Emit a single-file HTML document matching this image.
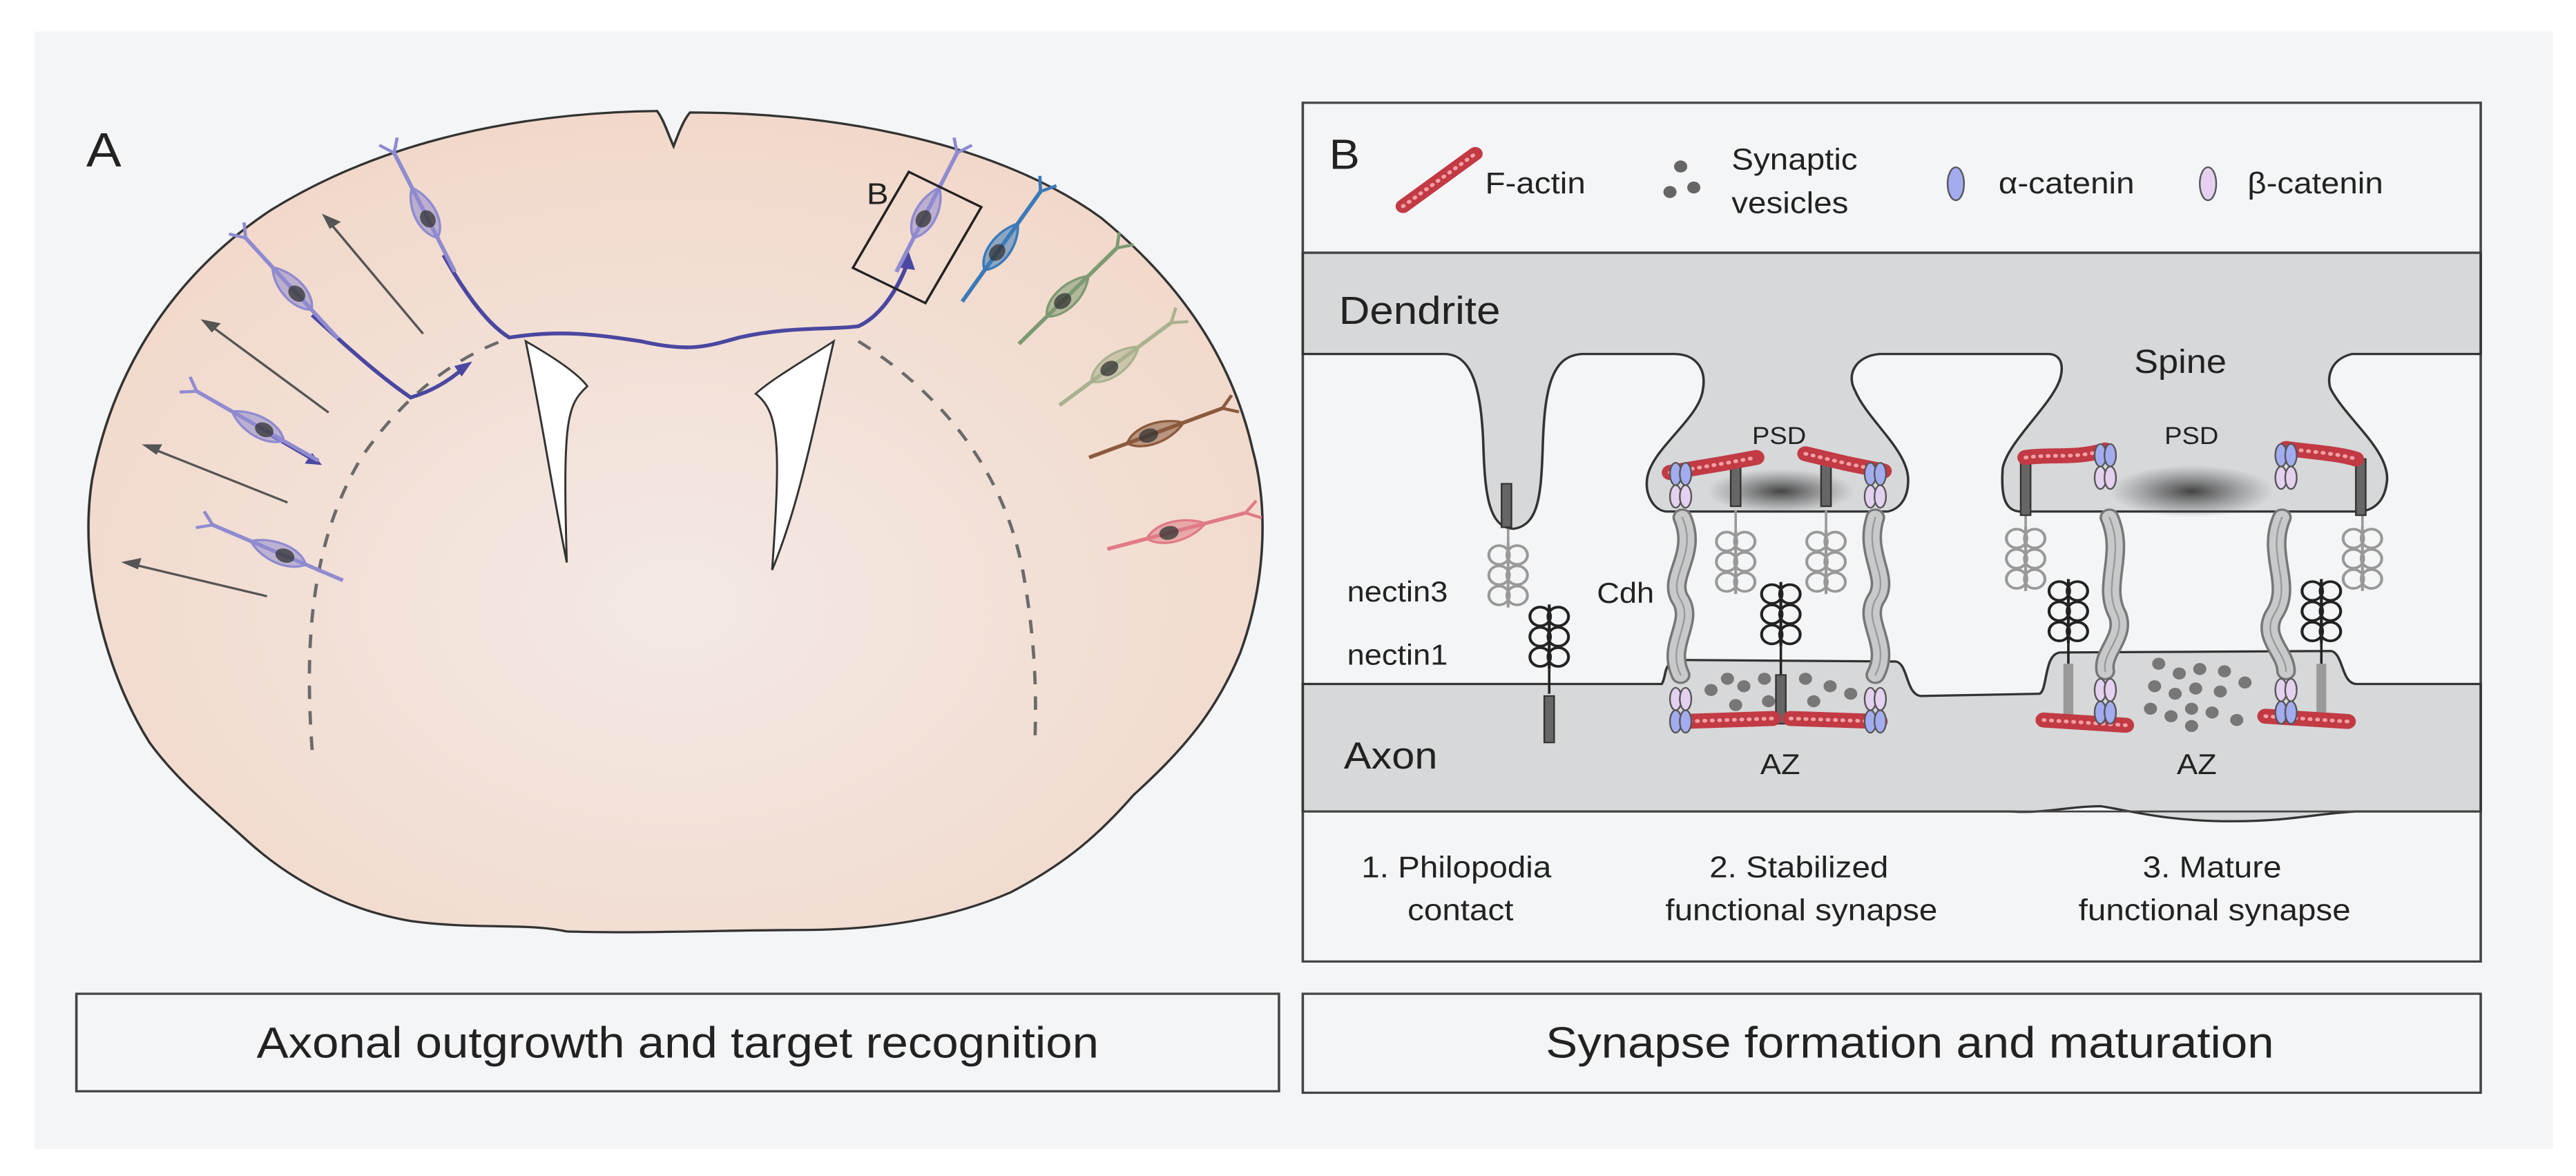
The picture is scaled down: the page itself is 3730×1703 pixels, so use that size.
<!DOCTYPE html>
<html><head><meta charset="utf-8"><style>
html,body{margin:0;padding:0;background:#fff;}
svg{display:block;}
text{font-family:"Liberation Sans",sans-serif;fill:#222;}
</style></head><body>
<svg width="3730" height="1703" viewBox="0 0 3136 1568" preserveAspectRatio="none" xmlns="http://www.w3.org/2000/svg">
<defs>
<radialGradient id="brain" cx="0.5" cy="0.6" r="0.6">
<stop offset="0" stop-color="#f3e9e4"/><stop offset="1" stop-color="#f2d8ca"/>
</radialGradient>
<radialGradient id="psd" cx="0.5" cy="0.5" r="0.5">
<stop offset="0" stop-color="#333" stop-opacity="0.9"/><stop offset="1" stop-color="#555" stop-opacity="0"/>
</radialGradient>
<g id="neuron">
<line x1="0" y1="-95" x2="0" y2="80" stroke="currentColor" stroke-width="5"/>
<path d="M0,-95 L-12,-112 M0,-95 L12,-112" stroke="currentColor" stroke-width="4" fill="none"/>
<path d="M0,-44 C17,-22 18,15 0,30 C-18,15 -17,-22 0,-44Z" fill="currentColor" fill-opacity="0.55" stroke="currentColor" stroke-width="3"/>
<ellipse cx="0" cy="2" rx="9" ry="12" fill="#333" fill-opacity="0.75"/>
</g>
<g id="nectin" fill="none" stroke-width="3.5">
<circle cx="-11" cy="0" r="12.5"/><circle cx="11" cy="0" r="12.5"/>
<circle cx="-11" cy="27" r="12.5"/><circle cx="11" cy="27" r="12.5"/>
<circle cx="-11" cy="54" r="12.5"/><circle cx="11" cy="54" r="12.5"/>
<line x1="0" y1="-16" x2="0" y2="70"/>
</g>
<g id="cat">
<ellipse cx="-6" cy="0" rx="7" ry="15" fill="#a3acee" stroke="#555" stroke-width="2"/>
<ellipse cx="6" cy="0" rx="7" ry="15" fill="#a3acee" stroke="#555" stroke-width="2"/>
<ellipse cx="-6" cy="30" rx="7" ry="15" fill="#e4d0ef" stroke="#555" stroke-width="2"/>
<ellipse cx="6" cy="30" rx="7" ry="15" fill="#e4d0ef" stroke="#555" stroke-width="2"/>
</g>
</defs>
<rect x="0" y="0" width="3136" height="1568" fill="#fff"/>
<rect x="42" y="42" width="3066" height="1490" fill="#f3f5f7"/>

<!-- Panel A -->
<path d="M820,195 C812,175 808,160 800,148 C640,150 470,185 330,280 C220,360 140,480 112,640 C95,760 130,900 182,990 C215,1040 260,1080 300,1120 C360,1180 430,1215 500,1228 C580,1240 640,1230 690,1242 C780,1245 890,1240 975,1240 C1060,1240 1150,1228 1230,1190 C1300,1150 1340,1110 1380,1060 C1440,1000 1480,950 1510,870 C1540,780 1545,680 1525,600 C1500,480 1440,380 1340,290 C1220,195 1030,150 840,150 C832,160 826,178 820,195Z" fill="url(#brain)" stroke="#333" stroke-width="3"/>
<path d="M640,455 C680,480 705,500 715,515 C690,540 685,560 690,750 C670,640 660,560 640,455Z" fill="#fff" stroke="#333" stroke-width="2.5"/>
<path d="M1015,455 C980,480 940,505 920,525 C950,550 950,600 940,760 C970,680 985,600 1015,455Z" fill="#fff" stroke="#333" stroke-width="2.5"/>
<path d="M380,1000 C370,850 380,720 440,610 C490,530 550,480 610,455" fill="none" stroke="#6b6b6b" stroke-width="4" stroke-dasharray="18 16"/>
<path d="M1045,455 C1140,520 1220,620 1245,760 C1260,850 1262,920 1260,985" fill="none" stroke="#6b6b6b" stroke-width="4" stroke-dasharray="18 16"/>
<g stroke="#555" stroke-width="3" fill="#555">
<line x1="515" y1="445" x2="400" y2="295"/><path d="M395,288 L412,296 L402,303Z"/>
<line x1="400" y1="550" x2="255" y2="433"/><path d="M248,428 L266,432 L258,441Z"/>
<line x1="350" y1="670" x2="185" y2="598"/><path d="M177,594 L195,594 L190,604Z"/>
<line x1="325" y1="795" x2="160" y2="752"/><path d="M152,750 L170,746 L167,757Z"/>
</g>
<g stroke="#4a47a0" stroke-width="5" fill="none">
<path d="M540,340 C560,380 590,430 620,450 C680,440 720,445 780,455 C840,470 860,462 900,450 C960,435 1010,440 1045,435 C1075,420 1095,380 1105,350"/>
<path d="M380,420 C420,460 460,500 500,530 C530,520 550,505 565,490"/>
<path d="M330,580 L385,615"/>
</g>
<g fill="#4a47a0"><path d="M1106,335 L1114,360 L1096,357Z"/><path d="M575,482 L562,502 L553,488Z"/><path d="M392,620 L371,618 L380,604Z"/></g>
<g color="#8f8bd0"><use href="#neuron" transform="translate(520,290) rotate(-25)"/>
<use href="#neuron" transform="translate(360,390) rotate(-40)"/>
<use href="#neuron" transform="translate(320,572) rotate(-58)"/>
<use href="#neuron" transform="translate(345,740) rotate(-65)"/>
<use href="#neuron" transform="translate(1125,290) rotate(25)"/></g>
<use href="#neuron" color="#3a7ab8" transform="translate(1215,335) rotate(33)"/>
<use href="#neuron" color="#7d9a72" transform="translate(1295,400) rotate(43)"/>
<use href="#neuron" color="#a9b28f" transform="translate(1352,490) rotate(51)"/>
<use href="#neuron" color="#8b5a3c" transform="translate(1400,580) rotate(68)"/>
<use href="#neuron" color="#e07b86" transform="translate(1425,710) rotate(74)"/>
<rect x="1070" y="245" width="100" height="145" fill="none" stroke="#222" stroke-width="3" transform="rotate(28 1120 310)"/>
<text x="1055" y="272" font-size="40">B</text>
<text x="105" y="222" font-size="64">A</text>
<rect x="93" y="1325" width="1464" height="130" fill="#f3f5f7" stroke="#444" stroke-width="3"/>
<text x="825" y="1410" font-size="58" text-anchor="middle">Axonal outgrowth and target recognition</text>

<!-- Panel B -->
<g transform="translate(1568,0)">
<rect x="18" y="137" width="1434" height="1145" fill="#f3f5f7" stroke="#444" stroke-width="3"/>
<path d="M18,337 L1452,337 L1452,472 L1295,472 C1265,480 1265,510 1270,520 C1290,560 1340,600 1338,640 C1336,665 1325,680 1305,682 L890,682 C872,680 868,660 870,625 C875,590 930,540 940,505 C945,485 940,472 925,472 L720,472 C690,475 680,500 690,520 C705,560 755,600 755,640 C755,670 740,680 730,682 L460,682 C445,680 435,660 437,640 C440,600 500,560 505,520 C510,490 495,472 470,472 L360,472 C320,472 312,520 310,600 C308,660 305,700 275,705 C245,705 240,660 238,600 C236,520 225,472 190,472 L18,472Z" fill="#d6d8da" stroke="#333" stroke-width="3"/>
<line x1="18" y1="337" x2="1452" y2="337" stroke="#444" stroke-width="3"/>
<path d="M18,912 L455,912 C462,900 455,880 480,880 L740,882 C755,885 752,925 770,928 L915,925 C925,920 920,872 940,870 L1270,868 C1285,872 1282,910 1300,912 L1452,912 L1452,1082 L1300,1082 C1250,1085 1220,1095 1150,1095 C1070,1095 1030,1082 990,1075 C950,1075 920,1085 880,1082 L18,1082Z" fill="#d6d8da" stroke="#333" stroke-width="3"/>
<line x1="18" y1="1082" x2="1452" y2="1082" stroke="#444" stroke-width="2.5"/>
<ellipse cx="600" cy="655" rx="90" ry="30" fill="url(#psd)"/>
<ellipse cx="1100" cy="655" rx="100" ry="35" fill="url(#psd)"/>

<!-- legend -->
<text x="50" y="225" font-size="56">B</text>
<path d="M140,275 L228,205" stroke="#c23a44" stroke-width="18" stroke-linecap="round"/>
<path d="M140,275 L228,205" stroke="#f2a0a6" stroke-width="5" stroke-dasharray="1 8" stroke-linecap="round"/>
<text x="240" y="258" font-size="40">F-actin</text>
<g fill="#666"><circle cx="478" cy="222" r="8"/><circle cx="465" cy="256" r="8"/><circle cx="494" cy="250" r="8"/></g>
<text x="540" y="226" font-size="40">Synaptic</text>
<text x="540" y="284" font-size="40">vesicles</text>
<ellipse cx="813" cy="245" rx="10" ry="22" fill="#a3acee" stroke="#555" stroke-width="2"/>
<text x="865" y="258" font-size="40">α-catenin</text>
<ellipse cx="1120" cy="245" rx="10" ry="22" fill="#e4d0ef" stroke="#555" stroke-width="2"/>
<text x="1168" y="258" font-size="40">β-catenin</text>

<text x="62" y="432" font-size="52">Dendrite</text>
<text x="1030" y="497" font-size="44">Spine</text>
<text x="565" y="592" font-size="32">PSD</text>
<text x="1067" y="592" font-size="32">PSD</text>
<text x="72" y="802" font-size="38">nectin3</text>
<text x="72" y="886" font-size="38">nectin1</text>
<text x="376" y="804" font-size="38">Cdh</text>
<text x="68" y="1025" font-size="50">Axon</text>
<text x="575" y="1032" font-size="38">AZ</text>
<text x="1082" y="1032" font-size="38">AZ</text>
<g font-size="40" text-anchor="middle">
<text x="205" y="1170">1. Philopodia</text><text x="210" y="1227">contact</text>
<text x="622" y="1170">2. Stabilized</text><text x="625" y="1227">functional synapse</text>
<text x="1125" y="1170">3. Mature</text><text x="1128" y="1227">functional synapse</text>
</g>

<!-- cadherins -->
<g fill="none" stroke-linecap="round">
<g stroke="#777" stroke-width="24"><path d="M480,690 C500,740 460,770 478,800 C495,830 460,860 478,900"/><path d="M715,690 C700,740 735,770 715,800 C700,830 735,860 715,900"/>
<path d="M1000,690 C1020,740 990,780 1010,820 C1020,850 990,870 995,895"/><path d="M1210,690 C1190,740 1225,780 1200,820 C1185,850 1215,870 1215,895"/></g>
<g stroke="#c8c9cb" stroke-width="18"><path d="M480,690 C500,740 460,770 478,800 C495,830 460,860 478,900"/><path d="M715,690 C700,740 735,770 715,800 C700,830 735,860 715,900"/>
<path d="M1000,690 C1020,740 990,780 1010,820 C1020,850 990,870 995,895"/><path d="M1210,690 C1190,740 1225,780 1200,820 C1185,850 1215,870 1215,895"/></g>
<g stroke="#999" stroke-width="2"><path d="M480,690 C500,740 460,770 478,800 C495,830 460,860 478,900"/><path d="M715,690 C700,740 735,770 715,800 C700,830 735,860 715,900"/>
<path d="M1000,690 C1020,740 990,780 1010,820 C1020,850 990,870 995,895"/><path d="M1210,690 C1190,740 1225,780 1200,820 C1185,850 1215,870 1215,895"/></g>
</g>
<!-- nectins -->
<g stroke="#999"><use href="#nectin" transform="translate(268,740)"/><use href="#nectin" transform="translate(545,722)"/><use href="#nectin" transform="translate(655,722)"/><use href="#nectin" transform="translate(898,718)"/><use href="#nectin" transform="translate(1308,718)"/></g>
<g stroke="#222"><use href="#nectin" transform="translate(318,822)"/><use href="#nectin" transform="translate(600,792)"/><use href="#nectin" transform="translate(950,788)"/><use href="#nectin" transform="translate(1258,788)"/></g>
<g stroke="#999" stroke-width="3"><line x1="268" y1="705" x2="268" y2="725"/><line x1="545" y1="680" x2="545" y2="706"/><line x1="655" y1="680" x2="655" y2="706"/><line x1="898" y1="685" x2="898" y2="702"/><line x1="1308" y1="685" x2="1308" y2="702"/></g>
<g stroke="#222" stroke-width="3"><line x1="318" y1="892" x2="318" y2="925"/><line x1="600" y1="862" x2="600" y2="900"/><line x1="950" y1="858" x2="950" y2="885"/><line x1="1258" y1="858" x2="1258" y2="885"/></g>
<!-- vesicles -->
<g fill="#777"><circle cx="535" cy="905" r="8"/><circle cx="580" cy="905" r="8"/><circle cx="515" cy="920" r="8"/><circle cx="555" cy="915" r="8"/><circle cx="545" cy="940" r="8"/><circle cx="585" cy="935" r="8"/><circle cx="630" cy="905" r="8"/><circle cx="660" cy="915" r="8"/><circle cx="640" cy="935" r="8"/><circle cx="685" cy="925" r="8"/>
<circle cx="1060" cy="885" r="8"/><circle cx="1085" cy="898" r="8"/><circle cx="1110" cy="892" r="8"/><circle cx="1140" cy="895" r="8"/><circle cx="1165" cy="910" r="8"/><circle cx="1055" cy="915" r="8"/><circle cx="1080" cy="925" r="8"/><circle cx="1105" cy="918" r="8"/><circle cx="1135" cy="922" r="8"/><circle cx="1050" cy="945" r="8"/><circle cx="1075" cy="955" r="8"/><circle cx="1100" cy="945" r="8"/><circle cx="1125" cy="950" r="8"/><circle cx="1155" cy="960" r="8"/><circle cx="1100" cy="968" r="8"/></g>
<!-- rods -->
<g fill="#666" stroke="#333" stroke-width="2">
<rect x="260" y="645" width="12" height="58"/><rect x="312" y="928" width="12" height="62"/>
<rect x="539" y="615" width="12" height="60"/><rect x="649" y="615" width="12" height="60"/><rect x="594" y="900" width="12" height="65"/>
<rect x="892" y="612" width="12" height="75"/><rect x="1300" y="612" width="12" height="75"/>
</g>
<g fill="#999"><rect x="944" y="885" width="12" height="72"/><rect x="1252" y="885" width="12" height="72"/></g>
<!-- actin -->
<g fill="none" stroke-linecap="round">
<g stroke="#c23a44" stroke-width="20"><path d="M465,630 L530,618 L570,610"/><path d="M630,605 L680,618 L725,628"/><path d="M480,962 L590,958"/><path d="M612,958 L720,962"/>
<path d="M898,610 C930,605 960,612 995,600"/><path d="M1215,598 C1250,603 1280,605 1300,612"/><path d="M920,960 L1020,967"/><path d="M1190,955 L1290,962"/></g>
<g stroke="#f2a0a6" stroke-width="5" stroke-dasharray="1 8"><path d="M465,630 L530,618 L570,610"/><path d="M630,605 L680,618 L725,628"/><path d="M480,962 L590,958"/><path d="M612,958 L720,962"/>
<path d="M898,610 C930,605 960,612 995,600"/><path d="M1215,598 C1250,603 1280,605 1300,612"/><path d="M920,960 L1020,967"/><path d="M1190,955 L1290,962"/></g>
</g>
<!-- catenins -->
<use href="#cat" transform="translate(478,632)"/><use href="#cat" transform="translate(715,632)"/>
<use href="#cat" transform="translate(995,607)"/><use href="#cat" transform="translate(1215,607)"/>
<use href="#cat" transform="translate(478,962) scale(1,-1)"/><use href="#cat" transform="translate(715,962) scale(1,-1)"/>
<use href="#cat" transform="translate(995,950) scale(1,-1)"/><use href="#cat" transform="translate(1215,950) scale(1,-1)"/>

<rect x="18" y="1325" width="1434" height="132" fill="#f3f5f7" stroke="#444" stroke-width="3"/>
<text x="757" y="1410" font-size="58" text-anchor="middle">Synapse formation and maturation</text>
</g>
</svg>
</body></html>
